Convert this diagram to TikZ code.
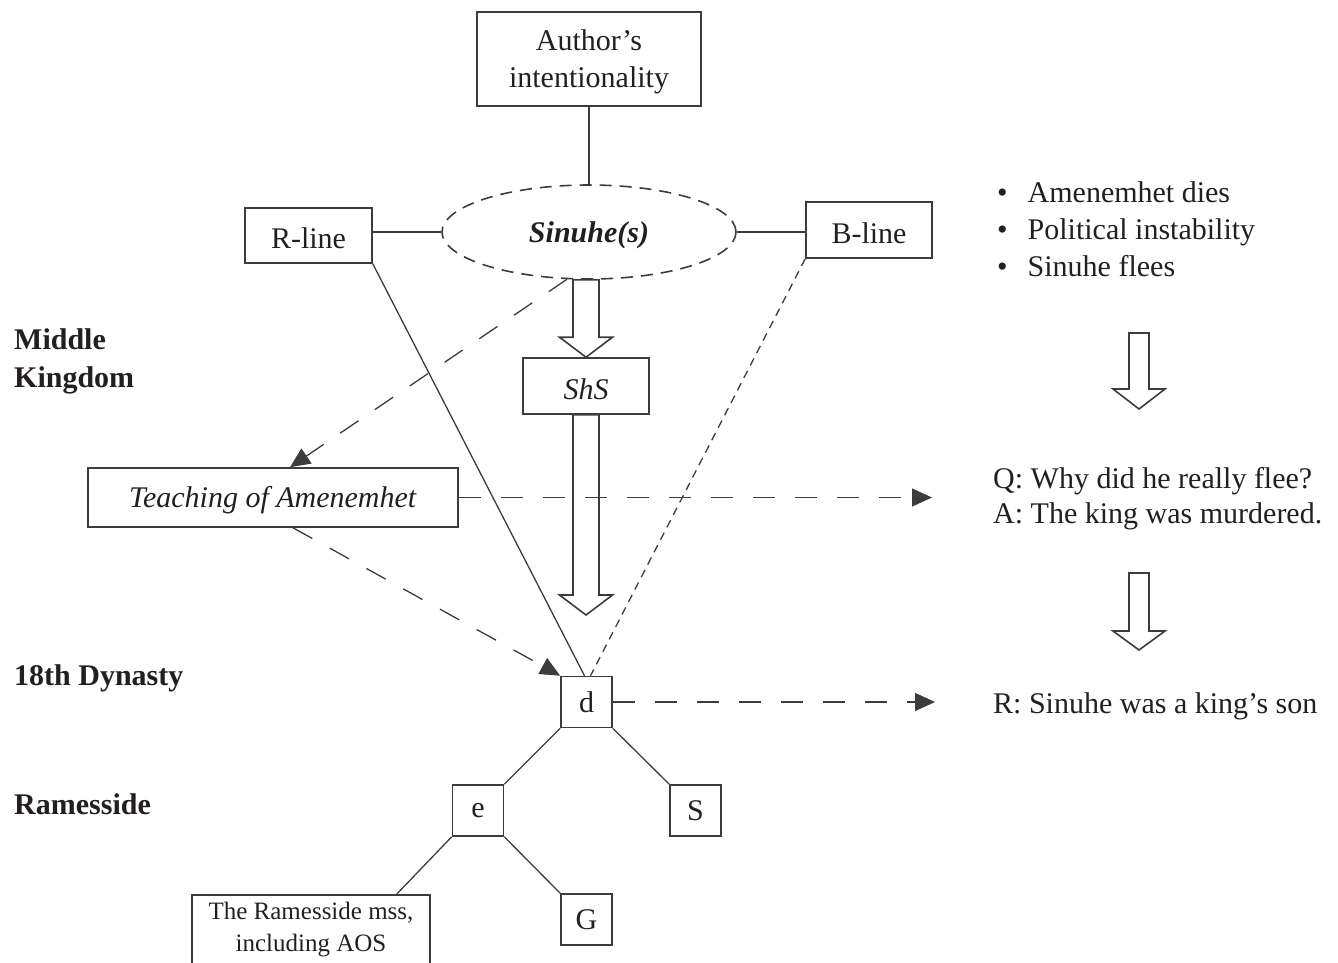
\documentclass[tikz,border=0pt]{standalone}
\usepackage{fontspec}
\setmainfont{Liberation Serif}
\usetikzlibrary{arrows.meta,shapes.geometric,calc}
\definecolor{ink}{RGB}{35,31,32}
\definecolor{stroke}{RGB}{60,60,60}
% hollow downward block arrow: #1 top, #2 tip, #3 half shaft, #4 half head, #5 head length
\newcommand\fatdown[5]{%
  \draw[fat] let \p1=#1, \p2=#2 in
    ({\x2-#3},\y1) -- ({\x2-#3},{\y2+#5}) -- ({\x2-#4},{\y2+#5}) -- (\x2,\y2)
    -- ({\x2+#4},{\y2+#5}) -- ({\x2+#3},{\y2+#5}) -- ({\x2+#3},\y1) -- cycle;}
% set a label a little lower in its box without changing the box
\newcommand\dropped[1]{\raisebox{-3pt}[\height][\depth]{#1}}
\begin{document}
\begin{tikzpicture}[x=1pt,y=-1pt,
  every node/.style={text=ink, font=\fontsize{30}{37}\selectfont},
  box/.style={draw=stroke, line width=1.6pt, inner sep=0pt, align=center},
  link/.style={draw=stroke, line width=1.3pt},
  dashlink/.style={link, dash pattern=on 22pt off 20pt},
  dotlink/.style={link, dash pattern=on 8pt off 6pt},
  tip/.style={-{Triangle[length=20pt,width=18pt]}},
  fat/.style={draw=stroke, line width=1.6pt, line join=miter},
  era/.style={font=\fontsize{30}{38}\selectfont\bfseries, anchor=west, align=left, inner sep=0pt},
  note/.style={anchor=west, align=left, inner sep=0pt}
]
\useasboundingbox (0,0) rectangle (1338,962);
\clip (0,0) rectangle (1338,962);

% period labels
\node[era] (mk) at (14,361) {Middle\\Kingdom};
\node[era] (dyn) at (14,678) {18th Dynasty};
\node[era] (ram) at (14,804) {Ramesside};

% stemma
\node[box, minimum width=224pt, minimum height=94pt] (author) at (589,59) {\dropped{\begin{tabular}{@{}c@{}}Author’s\\intentionality\end{tabular}}};
\node[box, ellipse, dash pattern=on 12pt off 8pt, minimum width=294pt, minimum height=94pt] (sin) at (589,232) {\dropped{\textbf{\textit{Sinuhe(s)}}}};
\node[box, minimum width=127pt, minimum height=55pt] (rline) at (308.5,235.5) {\dropped{R-line}};
\node[box, minimum width=126pt, minimum height=56pt] (bline) at (869,230) {\dropped{B-line}};
\node[box, minimum width=126pt, minimum height=56pt] (shs) at (586,386) {\dropped{\textit{ShS}}};
\node[box, minimum width=370pt, minimum height=59pt] (teach) at (273,497.5) {\dropped{\textit{Teaching of Amenemhet}}};
\node[box, minimum size=51pt] (d) at (586.5,702) {d};
\node[box, minimum size=51pt] (e) at (478,810.5) {e};
\node[box, minimum size=51pt] (s) at (695.5,810.5) {S};
\node[box, minimum size=51pt] (g) at (586.5,919.5) {G};
\node[box, minimum width=238pt, minimum height=70pt, font=\fontsize{25}{32}\selectfont, anchor=north] (mss) at (311,894) {The Ramesside mss,\\including AOS};

% narrative column
\node[note] (causes) at (997,232) {\begin{tabular}{@{}l@{\hspace{20pt}}l@{}}\textbullet & Amenemhet dies\\ \textbullet & Political instability\\ \textbullet & Sinuhe flees\end{tabular}};
\node[note, font=\fontsize{30}{35}\selectfont] (qa) at (993,499) {Q: Why did he really flee?\\A: The king was murdered.};
\node[note] (rsn) at (993,706) {R: Sinuhe was a king’s son};

% connectors
\draw[link] (author) -- (sin);
\draw[link] (sin.west) -- (sin.west -| rline.east);
\draw[link] (sin.east) -- (sin.east -| bline.west);
\draw[link] (rline.south east) -- ([xshift=-2pt]d.north);
\draw[dotlink] (bline.south west) -- ([xshift=4pt]d.north);
\draw[dashlink, tip] (sin.-115) -- ([xshift=17pt]teach.north);
\draw[dashlink, tip] ([xshift=20pt]teach.south) -- (d.north west);
\draw[dashlink, tip, shorten >=61pt] (teach.east) -- (teach.east -| qa.west);
\draw[dashlink, tip, shorten >=58pt] (d.east) -- (d.east -| rsn.west);
\draw[link] (d.south west) -- (e.north east);
\draw[link] (d.south east) -- (s.north west);
\draw[link] (e.south east) -- (g.north west);
\draw[link] (e.south west) -- ([xshift=-34pt]mss.north east);

% block arrows
\coordinate (shsend) at (586,615);
\fatdown{(sin.south -| shs.north)}{(shs.north)}{13pt}{26.5pt}{20pt}
\fatdown{(shs.south)}{(shsend)}{13pt}{26.5pt}{20pt}
\coordinate (r1top) at (1139,333);
\coordinate (r1tip) at (1139,409);
\fatdown{(r1top)}{(r1tip)}{10pt}{26pt}{20pt}
\coordinate (r2top) at (1139,573);
\coordinate (r2tip) at (1139,650);
\fatdown{(r2top)}{(r2tip)}{10pt}{26pt}{19pt}
\end{tikzpicture}
\end{document}
